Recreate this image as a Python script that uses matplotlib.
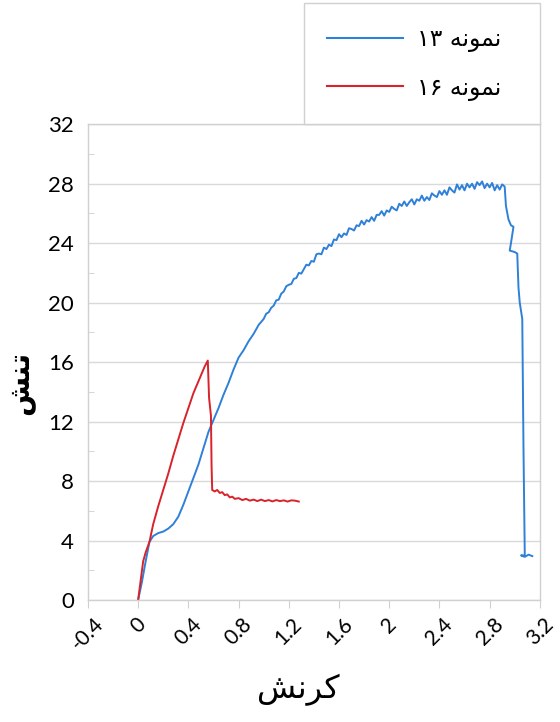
import matplotlib
matplotlib.use("Agg")
import matplotlib.pyplot as plt
from matplotlib.lines import Line2D

# strain / stress readings (sample 13, blue)
strain_13 = [0.00, 0.03, 0.06, 0.09, 0.12, 0.16, 0.20, 0.24, 0.28, 0.32, 0.36, 0.40,
             0.44, 0.48, 0.52, 0.56, 0.60, 0.64, 0.68, 0.72, 0.76, 0.80, 0.84, 0.88,
             0.92, 0.96, 1.00, 1.02, 1.04, 1.06, 1.08, 1.10, 1.12, 1.14, 1.16, 1.18,
             1.20, 1.22, 1.24, 1.26, 1.28, 1.30, 1.32, 1.34, 1.36, 1.38, 1.40, 1.42,
             1.44, 1.46, 1.48, 1.50, 1.52, 1.54, 1.56, 1.58, 1.60, 1.62, 1.64, 1.66,
             1.68, 1.70, 1.72, 1.74, 1.76, 1.78, 1.80, 1.82, 1.84, 1.86, 1.88, 1.90,
             1.92, 1.94, 1.96, 1.98, 2.00, 2.02, 2.04, 2.06, 2.08, 2.10, 2.12, 2.14,
             2.16, 2.18, 2.20, 2.22, 2.24, 2.26, 2.28, 2.30, 2.32, 2.34, 2.36, 2.38,
             2.40, 2.42, 2.44, 2.46, 2.48, 2.50, 2.52, 2.54, 2.56, 2.58, 2.60, 2.62,
             2.64, 2.66, 2.68, 2.70, 2.72, 2.74, 2.76, 2.78, 2.80, 2.82, 2.84, 2.86,
             2.88, 2.90, 2.92, 2.93, 2.95, 2.97, 2.99, 2.97, 2.96, 3.00, 3.02, 3.03,
             3.04, 3.06, 3.07, 3.08, 3.05, 3.08, 3.11, 3.14]
stress_13 = [0.0, 1.2, 2.6, 3.9, 4.3, 4.5, 4.6, 4.8, 5.1, 5.6, 6.4, 7.3,
             8.2, 9.1, 10.2, 11.3, 12.1, 12.9, 13.8, 14.6, 15.5, 16.3, 16.8, 17.4,
             17.9, 18.5, 18.9, 19.25, 19.35, 19.65, 19.8, 20.15, 20.2, 20.6, 20.75, 21.1,
             21.2, 21.25, 21.6, 21.65, 22.0, 21.95, 22.25, 22.55, 22.5, 22.8, 22.75, 23.25,
             23.3, 23.25, 23.7, 23.6, 23.9, 23.8, 24.25, 24.2, 24.6, 24.4, 24.65, 24.55,
             25.0, 24.95, 24.85, 25.2, 25.15, 25.5, 25.25, 25.55, 25.45, 25.75, 25.5, 25.9,
             25.9, 26.15, 25.85, 26.2, 26.1, 26.45, 26.3, 26.2, 26.65, 26.5, 26.8, 26.5,
             26.75, 26.95, 26.6, 26.95, 26.85, 27.2, 26.85, 27.1, 26.9, 27.35, 27.2, 27.1,
             27.5, 27.25, 27.55, 27.25, 27.75, 27.55, 27.4, 27.95, 27.6, 27.9, 27.55, 28.0,
             27.75, 28.0, 27.65, 28.1, 27.9, 28.15, 27.7, 28.0, 27.75, 28.05, 27.55, 27.9,
             27.6, 27.95, 27.8, 26.5, 25.6, 25.2, 25.1, 24.0, 23.5, 23.4, 23.3, 21.0,
             20.0, 18.9, 10.0, 3.0, 3.0, 2.9, 3.05, 2.95]

# sample 16, red
strain_16 = [0.00, 0.02, 0.04, 0.06, 0.09, 0.12, 0.16, 0.20, 0.24, 0.28, 0.32, 0.36,
             0.40, 0.44, 0.47, 0.50, 0.53, 0.555, 0.565, 0.58, 0.585, 0.59, 0.61, 0.63,
             0.65, 0.67, 0.69, 0.71, 0.73, 0.75, 0.77, 0.80, 0.83, 0.86, 0.89, 0.92,
             0.95, 0.98, 1.01, 1.04, 1.07, 1.10, 1.13, 1.16, 1.19, 1.22, 1.25, 1.28]
stress_16 = [0.0, 1.3, 2.6, 3.2, 3.9, 5.1, 6.3, 7.4, 8.5, 9.7, 10.8, 11.9,
             12.9, 13.9, 14.5, 15.1, 15.7, 16.1, 13.6, 12.4, 9.0, 7.4, 7.3, 7.4,
             7.2, 7.25, 7.05, 7.1, 6.9, 6.95, 6.8, 6.85, 6.72, 6.8, 6.68, 6.75,
             6.65, 6.75, 6.65, 6.72, 6.63, 6.72, 6.65, 6.7, 6.62, 6.7, 6.68, 6.62]

x_ticks = [-0.4, 0, 0.4, 0.8, 1.2, 1.6, 2, 2.4, 2.8, 3.2]
x_ticklabels = ["-0.4", "0", "0.4", "0.8", "1.2", "1.6", "2", "2.4", "2.8", "3.2"]
y_ticks = [0, 4, 8, 12, 16, 20, 24, 28, 32]

# Persian text, pre-shaped with presentation forms in visual order
word_sample = "\uFEEA\uFEE7\uFEEE\uFEE4\uFEE7"      # نمونه
label_13 = "\u06F1\u06F3 " + word_sample + "  "
label_16 = "\u06F1\u06F6 " + word_sample + "  "
x_title = "\uFEB6\uFEE7\uFEAE\uFB90"                   # کرنش
y_title = "\uFEB6\uFEE8\uFE97"                         # تنش

blue = "#2f80d8"
red = "#d8232a"
gray = "#d0d0d0"
tick_font = "Lato"
fa_font = ["DejaVu Sans"]

fig = plt.figure(figsize=(5.6, 7.22), dpi=100)
ax = fig.add_axes([0.157, 0.169, 0.807, 0.659])

ax.plot(strain_13, stress_13, color=blue, lw=1.4)
ax.plot(strain_16, stress_16, color=red, lw=1.4)

ax.set_xlim(-0.4, 3.2)
ax.set_ylim(0, 32)
ax.set_xticks(x_ticks)
ax.set_xticklabels(x_ticklabels, rotation=45, ha="center", fontsize=15, family=tick_font)
ax.set_yticks(y_ticks)
ax.set_yticklabels([str(v) for v in y_ticks], fontsize=16, family=tick_font)
ax.set_yticks([2, 6, 10, 14, 18, 22, 26, 30], minor=True)

ax.tick_params(axis="x", direction="out", length=6, color=gray, pad=4)
ax.tick_params(axis="y", which="major", length=0, pad=10)
ax.tick_params(axis="y", which="minor", direction="in", length=4, color=gray)
ax.grid(axis="y", which="major", color="#d9d9d9", lw=1)
ax.set_axisbelow(True)
for s in ax.spines.values():
    s.set_color(gray)
    s.set_linewidth(1)

ax.set_xlabel(x_title, fontsize=23, family=fa_font)
ax.xaxis.set_label_coords(0.465, -0.155)
ax.set_ylabel(y_title, fontsize=21, fontweight="bold", family=fa_font)
ax.yaxis.set_label_coords(-0.118, 0.456)

handles = [Line2D([], [], color=blue, lw=1.5), Line2D([], [], color=red, lw=1.5)]
leg = ax.legend(handles, [label_13, label_16], loc="lower right", bbox_to_anchor=(1, 1),
                borderaxespad=0, fancybox=False, edgecolor=gray, framealpha=1,
                prop={"family": fa_font, "size": 17}, handlelength=3.2,
                handletextpad=0.6, labelspacing=1.0, borderpad=1.0)
leg.get_frame().set_linewidth(1)

fig.savefig("out.png", dpi=100)
